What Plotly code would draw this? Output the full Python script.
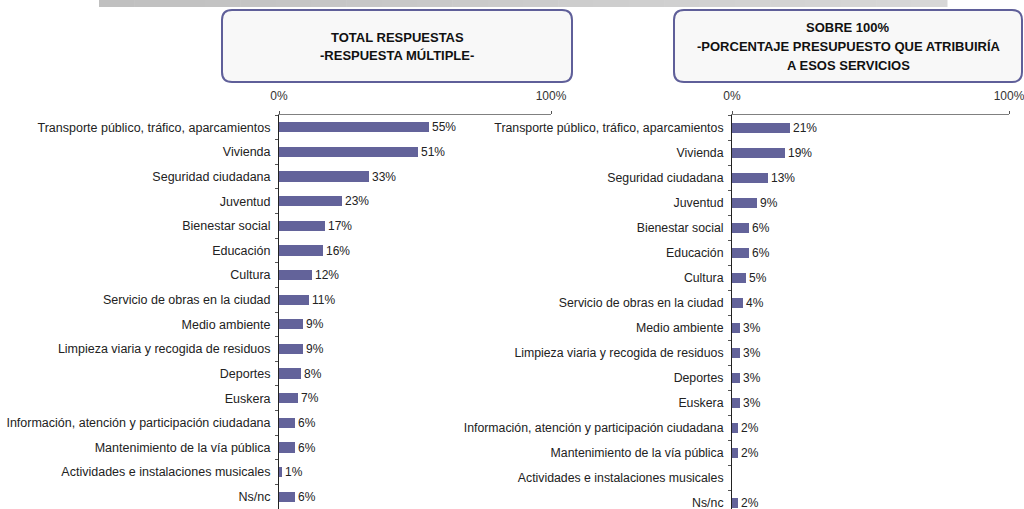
import plotly.graph_objects as go

# Services, top to bottom
categories = [
    "Transporte público, tráfico, aparcamientos",
    "Vivienda",
    "Seguridad ciudadana",
    "Juventud",
    "Bienestar social",
    "Educación",
    "Cultura",
    "Servicio de obras en la ciudad",
    "Medio ambiente",
    "Limpieza viaria y recogida de residuos",
    "Deportes",
    "Euskera",
    "Información, atención y participación ciudadana",
    "Mantenimiento de la vía pública",
    "Actividades e instalaciones musicales",
    "Ns/nc",
]

# Total answers (multiple answer), %
total_respuestas = [55, 51, 33, 23, 17, 16, 12, 11, 9, 9, 8, 7, 6, 6, 1, 6]

# Share of a 100% budget assigned to each service, %
presupuesto = [21, 19, 13, 9, 6, 6, 5, 4, 3, 3, 3, 3, 2, 2, None, 2]

x_tick_vals = [0, 100]
x_tick_text = ["0%", "100%"]

W, H = 1024, 509
BAR = "#63639a"
TXT = "#222222"
FONT = "Liberation Sans, Arial, sans-serif"


def px(x):
    return x / W


def py(y):
    return 1 - y / H


def labels(vals):
    return ["" if v is None else f"{v}%" for v in vals]


fig = go.Figure()

fig.add_trace(go.Bar(
    x=total_respuestas, y=categories, orientation="h",
    marker=dict(color=BAR, line=dict(width=0)), width=0.42,
    text=labels(total_respuestas), textposition="outside", cliponaxis=False,
    constraintext="none",
    textfont=dict(size=12, color=TXT, family=FONT),
    xaxis="x", yaxis="y", hoverinfo="skip",
))
fig.add_trace(go.Bar(
    x=presupuesto, y=categories, orientation="h",
    marker=dict(color=BAR, line=dict(width=0)), width=0.42,
    text=labels(presupuesto), textposition="outside", cliponaxis=False,
    constraintext="none",
    textfont=dict(size=12, color=TXT, family=FONT),
    xaxis="x2", yaxis="y2", hoverinfo="skip",
))

xcommon = dict(
    range=[0, 100], side="top", showgrid=False, zeroline=False,
    showline=True, linecolor="#808080", linewidth=1,
    tickmode="array", tickvals=x_tick_vals, ticktext=x_tick_text,
    ticks="outside", ticklen=3, tickcolor="#555555",
    tickfont=dict(size=12, color="#333333", family=FONT),
    ticklabelstandoff=6, ticklabeloverflow="allow",
    fixedrange=True, automargin=False,
)
ycommon = dict(
    type="category", categoryorder="array", categoryarray=categories,
    showgrid=False, zeroline=False, showline=True,
    linecolor="#222222", linewidth=1,
    ticks="outside", ticklen=3, tickcolor="#555555", tickson="boundaries",
    ticklabelstandoff=5, ticklabeloverflow="allow",
    fixedrange=True, automargin=False,
)

fig.update_layout(
    width=W, height=H,
    margin=dict(l=0, r=0, t=0, b=0, autoexpand=False),
    paper_bgcolor="white", plot_bgcolor="white",
    showlegend=False, bargap=0,
    font=dict(family=FONT, size=12, color=TXT),
    xaxis=dict(domain=[px(279), px(551)], anchor="y", **xcommon),
    yaxis=dict(domain=[0, py(115)], anchor="x", range=[15.5, -0.5],
               tickfont=dict(size=12.5, color=TXT, family=FONT), **ycommon),
    xaxis2=dict(domain=[px(732), px(1009)], anchor="y2", **xcommon),
    yaxis2=dict(domain=[0, py(115)], anchor="x2", range=[15.24, -0.52],
                tickfont=dict(size=12.3, color=TXT, family=FONT), **ycommon),
)


def rounded_box(x0, y0, x1, y1, r):
    pts = [
        f"M {px(x0 + r)} {py(y0)}",
        f"L {px(x1 - r)} {py(y0)}",
        f"Q {px(x1)} {py(y0)} {px(x1)} {py(y0 + r)}",
        f"L {px(x1)} {py(y1 - r)}",
        f"Q {px(x1)} {py(y1)} {px(x1 - r)} {py(y1)}",
        f"L {px(x0 + r)} {py(y1)}",
        f"Q {px(x0)} {py(y1)} {px(x0)} {py(y1 - r)}",
        f"L {px(x0)} {py(y0 + r)}",
        f"Q {px(x0)} {py(y0)} {px(x0 + r)} {py(y0)}",
        "Z",
    ]
    return " ".join(pts)


shapes = []

# grey band along the top, shading from darker (left) to lighter (right)
band_x0, band_x1, steps = 99, 947, 24
c0, c1 = 0xC0, 0xD7
for i in range(steps):
    a = band_x0 + (band_x1 - band_x0) * i / steps
    b = band_x0 + (band_x1 - band_x0) * (i + 1) / steps
    g = round(c0 + (c1 - c0) * i / (steps - 1))
    shapes.append(dict(
        type="rect", xref="paper", yref="paper",
        x0=px(a), x1=px(b) + 0.0005, y0=py(7), y1=py(0),
        fillcolor=f"rgb({g},{g},{g})", line=dict(width=0), layer="below",
    ))

for x0, x1 in [(222, 572), (674, 1022)]:
    shapes.append(dict(
        type="path", xref="paper", yref="paper",
        path=rounded_box(x0, 10, x1, 82, 10),
        fillcolor="#f8f8f8", line=dict(color="#5f5f99", width=2),
    ))
fig.update_layout(shapes=shapes)

title_lines = [
    (397, 37, "TOTAL RESPUESTAS"),
    (397, 56, "-RESPUESTA MÚLTIPLE-"),
    (848, 28, "SOBRE 100%"),
    (848, 47, "-PORCENTAJE PRESUPUESTO QUE ATRIBUIRÍA"),
    (848, 66, "A ESOS SERVICIOS"),
]
for x, y, t in title_lines:
    fig.add_annotation(
        x=px(x), y=py(y), xref="paper", yref="paper",
        text=f"<b>{t}</b>", showarrow=False,
        xanchor="center", yanchor="middle",
        font=dict(size=13, color="#111111", family=FONT),
    )

fig.write_html("out.html")
